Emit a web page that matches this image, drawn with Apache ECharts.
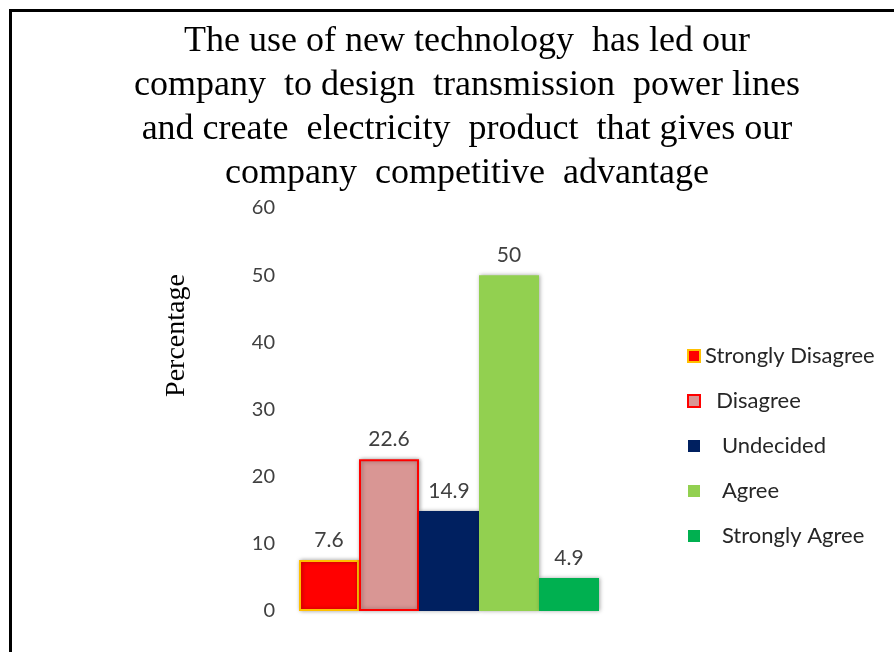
<!DOCTYPE html>
<html>
<head>
<meta charset="utf-8">
<title>New technology - competitive advantage</title>
<script src="https://cdn.jsdelivr.net/npm/echarts@6/dist/echarts.min.js"></script>
<style>
  html, body { margin: 0; padding: 0; background: #fff; }
  #chart { width: 894px; height: 652px; }
  .frame {
    position: absolute; left: 9px; top: 9px; right: 0; bottom: 0;
    border-top: 3px solid #000; border-left: 3px solid #000;
    pointer-events: none;
  }
</style>
</head>
<body>
<div id="chart"></div>
<div class="frame"></div>
<script>
  // survey answers
  var responses = ['Strongly Disagree', 'Disagree', 'Undecided', 'Agree', 'Strongly Agree']
  var percentages = [7.6, 22.6, 14.9, 50, 4.9]
  var barColors = ['#FF0000', '#D99694', '#002060', '#92D050', '#00B050']
  var barBorders = ['#FFC000', '#FF0000', '#002060', '#92D050', '#00B050']
  var legendIndent = ['', '  ', '   ', '   ', '   ']

  var chart = echarts.init(document.getElementById('chart'))

  var series = responses.map(function (name, i) {
    return {
      name: name,
      type: 'bar',
      data: [percentages[i]],
      barGap: '0%',
      barCategoryGap: '0%',
      itemStyle: {
        color: barColors[i],
        borderColor: barBorders[i],
        borderWidth: i < 2 ? 2 : 0,
        shadowColor: 'rgba(0,0,0,0.35)',
        shadowBlur: 4,
        shadowOffsetX: 1
      },
      label: {
        show: true,
        position: 'top',
        distance: 9,
        fontFamily: 'Lato',
        fontSize: 21,
        color: '#404040'
      }
    }
  })

  chart.setOption({
    animation: false,
    title: {
      text: 'The use of new technology  has led our\ncompany  to design  transmission  power lines\nand create  electricity  product  that gives our\ncompany  competitive  advantage',
      left: 462,
      top: 15,
      textAlign: 'center',
      textStyle: {
        fontFamily: 'Liberation Serif',
        fontWeight: 'normal',
        fontSize: 36,
        lineHeight: 44,
        color: '#000'
      }
    },
    legend: {
      orient: 'vertical',
      left: 682,
      top: 340,
      itemWidth: 12,
      itemHeight: 12,
      itemGap: 23,
      icon: 'rect',
      formatter: function (name) {
        return legendIndent[responses.indexOf(name)] + name
      },
      textStyle: { fontFamily: 'Lato', fontSize: 22, color: '#262626' }
    },
    grid: { left: 299, right: 295, top: 208, bottom: 41 },
    xAxis: {
      type: 'category',
      data: [''],
      axisLine: { show: false },
      axisTick: { show: false },
      axisLabel: { show: false }
    },
    yAxis: {
      type: 'value',
      min: 0,
      max: 60,
      interval: 10,
      name: 'Percentage',
      nameLocation: 'middle',
      nameGap: 108,
      nameTextStyle: {
        fontFamily: 'Liberation Serif',
        fontSize: 28,
        color: '#000',
        padding: [0, 0, 0, 148]
      },
      axisLine: { show: false },
      axisTick: { show: false },
      splitLine: { show: false },
      axisLabel: { fontFamily: 'Lato', fontSize: 20, color: '#404040', margin: 24 }
    },
    series: series
  })
</script>
</body>
</html>
